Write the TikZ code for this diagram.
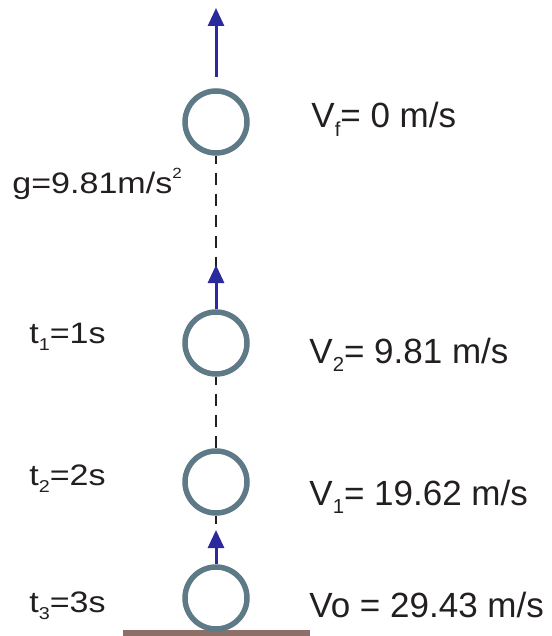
\documentclass[tikz,border=0pt]{standalone}
\usepackage{fontspec}
\setmainfont{Liberation Sans}
\newfontfamily\widefont[FakeStretch=1.15]{Liberation Sans}
\usetikzlibrary{arrows.meta}
\definecolor{ballgray}{RGB}{95,122,135}
\definecolor{velblue}{RGB}{42,42,156}
\definecolor{groundbrown}{RGB}{140,112,104}
\definecolor{inkgray}{RGB}{35,31,32}
\newcommand\lowidx[1]{\raisebox{-0.25em}{\scalebox{0.58}{#1}}}
\newcommand\highidx[1]{\raisebox{0.5em}{\scalebox{0.5}{#1}}}
\begin{document}
\begin{tikzpicture}[x=0.5pt, y=-0.5pt]
        \tikzstyle{ball}=[circle, draw=ballgray, line width=2.75pt, minimum size=31pt, inner sep=0pt]
        \tikzstyle{path}=[draw=inkgray, line width=1.2pt, dash pattern=on 6pt off 4.5pt, dash phase=2pt]
        \tikzstyle{vel}=[draw=velblue, line width=1.5pt, -{Triangle[length=9pt, width=8pt]}]
        \tikzstyle{timelbl}=[anchor=base west, inner sep=0pt, text=inkgray, font=\widefont\fontsize{14.8}{16}\selectfont]
        \tikzstyle{vlbl}=[anchor=base west, inner sep=0pt, text=inkgray, font=\fontsize{17.5}{20}\selectfont]
        \useasboundingbox (0,0) rectangle (551,636);

        % Ground
        \draw[groundbrown, line width=3pt] (123,633) -- (310,633);

        % Ball positions, top to bottom
        \node[ball] (top) at (216,122) {};
        \node[ball] (two) at (216,343) {};
        \node[ball] (one) at (216,482) {};
        \node[ball] (start) at (216,598) {};

        % Path of the ball
        \draw[path] (top) -- (two);
        \draw[path] (two) -- (one);
        \draw[path] (one) -- (start);

        % Velocity arrows
        \coordinate (toptail) at (216,77);
        \coordinate (toptip) at (216,8);
        \coordinate (twotip) at (216,265);
        \coordinate (starttip) at (216,530);
        \draw[vel] (toptail) -- (toptip);
        \draw[vel] (two.north) -- (twotip);
        \draw[vel] (start.north) -- (starttip);

        % Left labels
        \node[timelbl] (grav) at (12,193) {g=9.81m/s\highidx{2}};
        \node[timelbl] (tone) at (29,343) {t\lowidx{1}=1s};
        \node[timelbl] (ttwo) at (29,485) {t\lowidx{2}=2s};
        \node[timelbl] (tthree) at (29,612) {t\lowidx{3}=3s};

        % Right labels
        \node[vlbl] (vf) at (311,128) {V\lowidx{f}= 0 m/s};
        \node[vlbl] (vtwo) at (309,363) {V\lowidx{2}= 9.81 m/s};
        \node[vlbl] (vone) at (309,505) {V\lowidx{1}= 19.62 m/s};
        \node[vlbl] (vo) at (309,617) {Vo = 29.43 m/s};
    \end{tikzpicture}
\end{document}
